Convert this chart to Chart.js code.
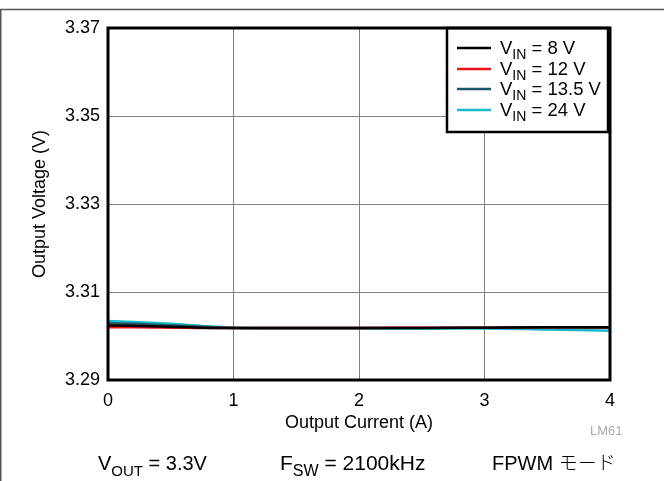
<!DOCTYPE html>
<html>
<head>
<meta charset="utf-8">
<script src="https://cdn.jsdelivr.net/npm/chart.js@4/dist/chart.umd.min.js"></script>
<style>
  html, body { margin: 0; padding: 0; background: #fff; }
  canvas { display: block; }
</style>
</head>
<body>
<canvas id="c" width="664" height="481"></canvas>
<script>
// ---- Data ----
const currentA = [0, 0.25, 0.5, 0.75, 1, 1.5, 2, 2.5, 3, 3.5, 4];
const vin8   = [3.3024, 3.3023, 3.3021, 3.3019, 3.3018, 3.3018, 3.3018, 3.3018, 3.3019, 3.3020, 3.3020];
const vin12  = [3.3020, 3.3020, 3.3019, 3.3018, 3.3018, 3.3018, 3.3018, 3.3019, 3.3019, 3.3020, 3.3020];
const vin135 = [3.3029, 3.3027, 3.3024, 3.3021, 3.3018, 3.3018, 3.3018, 3.3018, 3.3019, 3.3020, 3.3019];
const vin24  = [3.3034, 3.3031, 3.3028, 3.3023, 3.3019, 3.3017, 3.3017, 3.3017, 3.3017, 3.3015, 3.3012];
const seriesLabels = ["8 V", "12 V", "13.5 V", "24 V"];
const xTicks = [0, 1, 2, 3, 4];
const yTicks = [3.29, 3.31, 3.33, 3.35, 3.37];
const xTitle = "Output Current (A)";
const yTitle = "Output Voltage (V)";

const colors = ["#000000", "#e8141c", "#1b5766", "#19b9cc"];
const FONT = '"Liberation Sans", Arial, Helvetica, sans-serif';

function toPts(arr) { return arr.map((v, i) => ({ x: currentA[i], y: v })); }
const allSeries = [vin8, vin12, vin135, vin24];

function drawSub(ctx, x, y, parts, size, subSize, subDy) {
  ctx.textBaseline = 'alphabetic';
  ctx.textAlign = 'left';
  for (const p of parts) {
    if (p.sub) {
      ctx.font = subSize + 'px ' + FONT;
      ctx.fillText(p.t, x, y + subDy);
    } else {
      ctx.font = size + 'px ' + FONT;
      ctx.fillText(p.t, x, y);
    }
    x += ctx.measureText(p.t).width;
  }
  return x;
}

const decor = {
  id: 'decor',
  afterDraw(chart) {
    const ctx = chart.ctx;
    const a = chart.chartArea;
    ctx.save();
    // Legend box
    const lx = 447, ly = 28, lw = 161, lh = 104;
    ctx.fillStyle = '#fff';
    ctx.fillRect(lx, ly, lw, lh);
    ctx.strokeStyle = '#000';
    ctx.lineWidth = 2.5;
    ctx.strokeRect(lx, ly, lw, lh);
    const rows = [48, 69, 89, 110];
    chart.data.datasets.forEach((ds, i) => {
      const y = rows[i];
      ctx.strokeStyle = ds.borderColor;
      ctx.lineWidth = 2.5;
      ctx.beginPath();
      ctx.moveTo(457, y);
      ctx.lineTo(491, y);
      ctx.stroke();
      ctx.fillStyle = '#000';
      drawSub(ctx, 500, y + 6, [{ t: 'V' }, { t: 'IN', sub: true }, { t: ' = ' + seriesLabels[i] }], 18.5, 14, 5);
    });
    // Plot border
    ctx.strokeStyle = '#000';
    ctx.lineWidth = 3;
    ctx.strokeRect(a.left, a.top, a.right - a.left, a.bottom - a.top);
    // LM61 mark
    ctx.fillStyle = '#aaaaaa';
    ctx.font = '13px ' + FONT;
    ctx.textAlign = 'left';
    ctx.textBaseline = 'middle';
    ctx.fillText('LM61', 590, 431);
    // Footer
    ctx.fillStyle = '#000';
    drawSub(ctx, 98, 470, [{ t: 'V' }, { t: 'OUT', sub: true }, { t: ' = 3.3V' }], 20, 15, 6);
    drawSub(ctx, 280, 470, [{ t: 'F' }, { t: 'SW', sub: true }, { t: ' = 2100kHz' }], 21, 16, 6);
    ctx.font = '20px ' + FONT + ', "Noto Sans CJK JP"';
    ctx.textAlign = 'left';
    ctx.textBaseline = 'alphabetic';
    ctx.fillText('FPWM ', 492, 470);
    const w = ctx.measureText('FPWM ').width;
    ctx.font = '300 19px "Noto Sans CJK JP"';
    ctx.fillText('モード', 492 + w, 470);
    // Outer frame
    ctx.strokeStyle = '#555';
    ctx.lineWidth = 1.5;
    ctx.beginPath();
    ctx.moveTo(0, 9.5);
    ctx.lineTo(664, 9.5);
    ctx.moveTo(0.75, 9.5);
    ctx.lineTo(0.75, 481);
    ctx.stroke();
    ctx.restore();
  }
};

new Chart(document.getElementById('c'), {
  type: 'line',
  data: {
    datasets: allSeries.map((s, i) => ({
      label: 'VIN = ' + seriesLabels[i],
      data: toPts(s),
      borderColor: colors[i],
      backgroundColor: colors[i],
      borderWidth: 2.5,
      pointRadius: 0,
      cubicInterpolationMode: 'monotone',
      fill: false
    }))
  },
  options: {
    responsive: false,
    animation: false,
    events: [],
    layout: { padding: { top: 28, right: 54, left: 0, bottom: 41 } },
    plugins: { legend: { display: false }, tooltip: { enabled: false }, title: { display: false } },
    scales: {
      x: {
        type: 'linear',
        min: 0, max: 4,
        afterFit(s) { s.height = 60; },
        afterBuildTicks(s) { s.ticks = xTicks.map(v => ({ value: v })); },
        ticks: { color: '#000', font: { family: FONT, size: 18 }, padding: 10, maxRotation: 0,
                 callback: v => String(v) },
        grid: { color: '#808080', lineWidth: 1, drawTicks: false },
        border: { display: false },
        title: { display: true, text: xTitle, color: '#000', font: { family: FONT, size: 18 },
                 padding: { top: 0, bottom: 6 } }
      },
      y: {
        type: 'linear',
        min: 3.29, max: 3.37,
        afterFit(s) { s.width = 108; },
        afterBuildTicks(s) { s.ticks = yTicks.map(v => ({ value: v })); },
        ticks: { color: '#000', font: { family: FONT, size: 18 }, padding: 8,
                 callback: v => Number(v).toFixed(2) },
        grid: { color: '#808080', lineWidth: 1, drawTicks: false },
        border: { display: false },
        title: { display: true, text: yTitle, color: '#000', font: { family: FONT, size: 18 },
                 padding: { top: 29, bottom: 0 } }
      }
    }
  },
  plugins: [decor]
});
</script>
</body>
</html>
